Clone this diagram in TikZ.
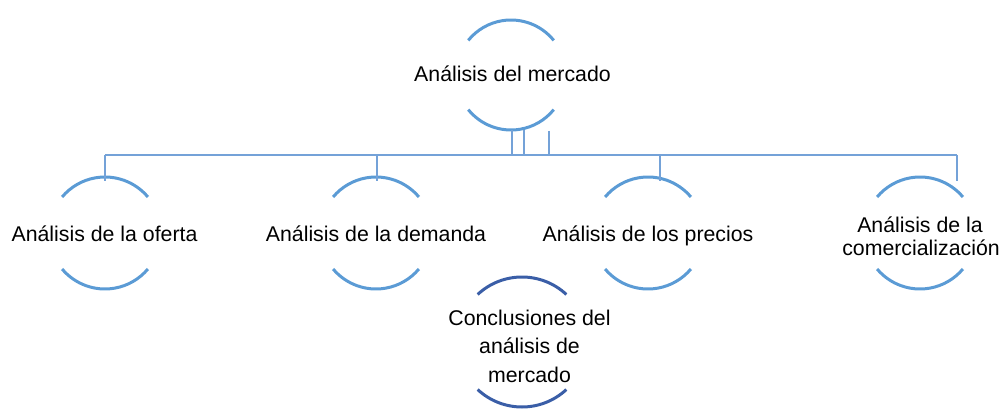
\documentclass[tikz,border=0pt]{standalone}
\usepackage{fontspec}
\setmainfont{Liberation Sans}
\definecolor{arcblue}{HTML}{5B9BD5}
\definecolor{lineblue}{HTML}{74A2D8}
\definecolor{darkblue}{HTML}{3A5EA7}
\begin{document}
\begin{tikzpicture}[x=1pt,y=1pt,
  lbl/.style={inner sep=0pt, anchor=base, font=\fontsize{21.3}{23.5}\selectfont, align=center},
  arcline/.style={draw=arcblue, line width=3pt},
  darkarc/.style={draw=darkblue, line width=3pt},
  conn/.style={draw=lineblue, line width=2.8pt}]
\useasboundingbox (0,0) rectangle (1000,410);
% circle centres
\coordinate (cT) at (511,335);
\coordinate (c1) at (105,177);
\coordinate (c2) at (376,177);
\coordinate (c3) at (648,177);
\coordinate (c4) at (920,177);
\coordinate (cB) at (522,68);
% arcs
\draw[arcline] ([shift={(39:55pt)}]cT) arc[start angle=39,end angle=141,radius=55pt];
\draw[arcline] ([shift={(219:55pt)}]cT) arc[start angle=219,end angle=321,radius=55pt];
\foreach \c in {c1,c2,c3,c4}{
  \draw[arcline] ([shift={(40:56pt)}]\c) arc[start angle=40,end angle=140,radius=56pt];
  \draw[arcline] ([shift={(220:56pt)}]\c) arc[start angle=220,end angle=320,radius=56pt];
}
\draw[darkarc] ([shift={(47:65pt)}]cB) arc[start angle=47,end angle=133,radius=65pt];
\draw[darkarc] ([shift={(227:65pt)}]cB) arc[start angle=227,end angle=313,radius=65pt];
% texts
\node[lbl] (mkt) at (512.5,328) {Análisis del mercado};
\node[lbl] (of) at (104.5,169) {Análisis de la oferta};
\node[lbl] (dem) at (376,169) {Análisis de la demanda};
\node[lbl] (pre) at (648,169) {Análisis de los precios};
\node[lbl] (com1) at (920,178) {Análisis de la};
\node[lbl] (com2) at (921,155) {comercialización};
\node[lbl] (con1) at (529.5,85) {Conclusiones del};
\node[lbl] (con2) at (529.5,57) {análisis de};
\node[lbl] (con3) at (529.5,28) {mercado};
% connectors
\coordinate (busL) at (105,255);
\coordinate (busR) at (957,255);
\coordinate (s1) at (512,280);
\coordinate (s2) at (524,280);
\coordinate (s3) at (549,279);
\coordinate (t1) at (105,229);
\coordinate (t2) at (377,229);
\coordinate (t3) at (660,229);
\coordinate (t4) at (957,229);
\draw[conn] (busL) -- (busR);
\foreach \s in {s1,s2,s3}{\draw[conn] (\s) -- (\s |- busL);}
\foreach \t in {t1,t2,t3,t4}{\draw[conn] (\t |- busL) -- (\t);}
\end{tikzpicture}
\end{document}
